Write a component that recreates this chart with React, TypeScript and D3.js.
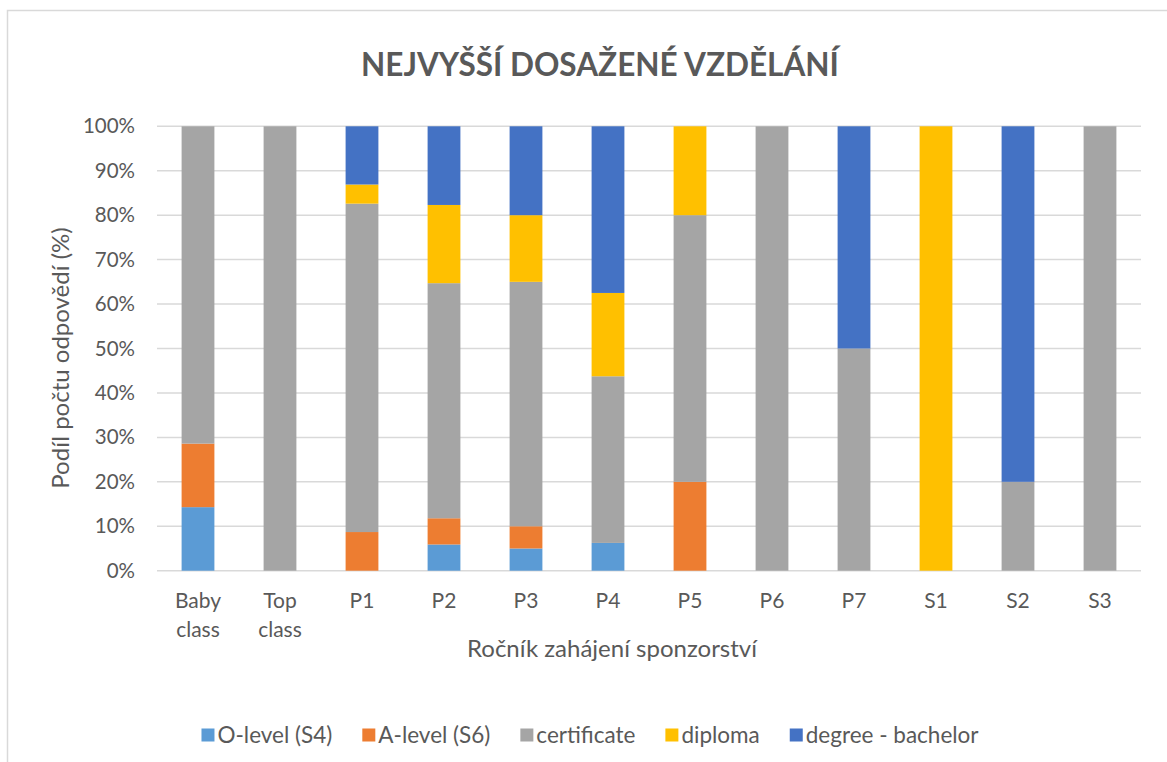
import React from "react";
import * as d3 from "d3";

const categories = ["Baby class", "Top class", "P1", "P2", "P3", "P4", "P5", "P6", "P7", "S1", "S2", "S3"];
const seriesNames = ["O-level (S4)", "A-level (S6)", "certificate", "diploma", "degree - bachelor"];
const seriesColors = ["#5B9BD5", "#ED7D31", "#A5A5A5", "#FFC000", "#4472C4"];
const oLevel = [14.3, 0, 0, 5.9, 5, 6.25, 0, 0, 0, 0, 0, 0];
const aLevel = [14.3, 0, 8.7, 5.9, 5, 0, 20, 0, 0, 0, 0, 0];
const certificate = [71.4, 100, 73.9, 52.9, 55, 37.5, 60, 100, 50, 0, 20, 100];
const diploma = [0, 0, 4.3, 17.6, 15, 18.75, 20, 0, 0, 100, 0, 0];
const degree = [0, 0, 13.1, 17.7, 20, 37.5, 0, 0, 50, 0, 80, 0];
const yTicks = [0, 10, 20, 30, 40, 50, 60, 70, 80, 90, 100];

const W = 1167;
const H = 762;
const FONT = "Lato, 'Open Sans', sans-serif";
const TXT = "#595959";

function measure(text: string, size: number, weight = "normal") {
  if (typeof document === "undefined") return text.length * size * 0.5;
  const c = document.createElement("canvas");
  const ctx = c.getContext("2d")!;
  ctx.font = `${weight} ${size}px Lato`;
  return ctx.measureText(text).width;
}

export default function App() {
  const left = 157, right = 1141, top = 126.3, bottom = 570.7;
  const x = d3.scaleBand<string>().domain(categories).range([left, right]).paddingInner(0.6).paddingOuter(0.3);
  const y = d3.scaleLinear().domain([0, 100]).range([bottom, top]);

  const rows = categories.map((c, i) => ({
    cat: c,
    s0: oLevel[i], s1: aLevel[i], s2: certificate[i], s3: diploma[i], s4: degree[i],
  }));
  const stack = d3.stack<any>().keys(["s0", "s1", "s2", "s3", "s4"]);
  const stacked = stack(rows);

  const legSize = 22.5;
  const sq = 13;
  const gapSq = 3;
  const gapItem = 30;
  const widths = seriesNames.map((n) => sq + gapSq + measure(n, legSize));
  const total = widths.reduce((a, b) => a + b, 0) + gapItem * (widths.length - 1);
  let lx = 590 - total / 2;
  const legendPos = widths.map((w) => {
    const p = lx;
    lx += w + gapItem;
    return p;
  });
  const legY = 735;

  return (
    <svg width={W} height={H} style={{ position: "absolute", left: 0, top: 0, fontFamily: FONT }}>
      <rect x={0} y={0} width={W} height={H} fill="#fff" />
      <rect x={7.5} y={10.5} width={W + 20} height={H + 20} fill="none" stroke="#d9d9d9" strokeWidth={1.5} />
      <text x={600} y={76} textAnchor="middle" fontSize={31.5} fontWeight="bold" fill={TXT}>
        NEJVYŠŠÍ DOSAŽENÉ VZDĚLÁNÍ
      </text>
      {yTicks.map((t) => (
        <g key={t}>
          <line x1={left} x2={right} y1={y(t)} y2={y(t)} stroke="#d9d9d9" strokeWidth={1.5} />
          <text x={135} y={y(t) + 7} textAnchor="end" fontSize={20.5} fill={TXT}>
            {t}%
          </text>
        </g>
      ))}
      {stacked.map((layer, si) => (
        <g key={si} fill={seriesColors[si]}>
          {layer.map((d, i) =>
            d[1] - d[0] > 0 ? (
              <rect
                key={i}
                x={x(categories[i])!}
                width={x.bandwidth()}
                y={y(d[1])}
                height={y(d[0]) - y(d[1])}
              />
            ) : null
          )}
        </g>
      ))}
      {categories.map((c) => {
        const parts = c.split(" ");
        const cx = x(c)! + x.bandwidth() / 2;
        return (
          <text key={c} x={cx} textAnchor="middle" fontSize={21} fill={TXT}>
            {parts.map((p, i) => (
              <tspan key={i} x={cx} y={608 + i * 29}>
                {p}
              </tspan>
            ))}
          </text>
        );
      })}
      <text x={612} y={657} textAnchor="middle" fontSize={24} fill={TXT}>
        Ročník zahájení sponzorství
      </text>
      <text transform={`translate(69,358) rotate(-90)`} textAnchor="middle" fontSize={24} fill={TXT}>
        Podíl počtu odpovědí (%)
      </text>
      {seriesNames.map((n, i) => (
        <g key={n}>
          <rect x={legendPos[i]} y={legY - sq / 2} width={sq} height={sq} fill={seriesColors[i]} />
          <text x={legendPos[i] + sq + gapSq} y={legY + 8} fontSize={legSize} fill={TXT}>
            {n}
          </text>
        </g>
      ))}
    </svg>
  );
}
